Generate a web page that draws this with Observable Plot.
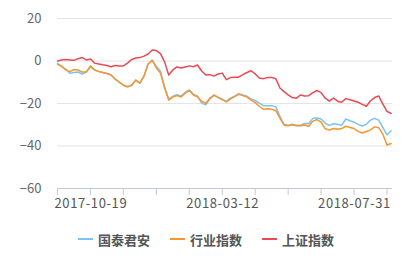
<!DOCTYPE html>
<html><head><meta charset="utf-8">
<script src="https://cdn.jsdelivr.net/npm/d3@7"></script>
<script src="https://cdn.jsdelivr.net/npm/@observablehq/plot@0.6"></script>
<style>
body{margin:0;background:#fff;font-family:"Noto Sans CJK SC",sans-serif;}
#legend{display:flex;justify-content:center;align-items:center;gap:20px;padding-top:14px;height:20px;font-size:13px;font-weight:bold;color:#555;padding-left:2px}
#legend span.sw{display:inline-block;width:15px;height:2px;margin-right:5px;vertical-align:middle}
#legend div{display:flex;align-items:center}
g[aria-label="x-axis tick label"] text{letter-spacing:0.6px}
</style></head><body>
<div id="chart"></div>
<div id="legend"></div>
<script>
const seriesNames = ["国泰君安", "行业指数", "上证指数"];
const colors = ["#7cc3f3", "#f7952f", "#eb4a53"];
const tickLabels = ["2017-10-19", "2018-03-12", "2018-07-31"];
const tickLabelDays = [0, 96, 192];
const gtja = [-1.1,-2.8,-3.8,-5.8,-5.4,-5.2,-6.1,-5.2,-2.8,-4.2,-4.9,-5.4,-5.9,-6.6,-8.5,-9.9,-11.4,-12.1,-11.4,-9.0,-10.4,-7.1,-1.4,0.2,-2.5,-4.8,-12.2,-18.0,-16.6,-15.9,-16.5,-14.8,-13.6,-15.7,-16.6,-19.8,-20.6,-17.9,-16.2,-17.0,-18.0,-19.0,-17.5,-16.5,-15.4,-16.0,-16.6,-17.8,-18.6,-19.8,-21.0,-21.0,-21.0,-21.6,-26.0,-29.8,-30.3,-29.8,-30.2,-30.2,-29.4,-29.4,-27.0,-26.8,-27.3,-29.3,-30.3,-29.5,-29.8,-30.3,-27.3,-28.1,-28.8,-29.8,-30.6,-29.8,-27.8,-27.0,-27.8,-31.3,-34.8,-32.8];
const industry = [-1.5,-2.3,-4.2,-5.0,-4.0,-4.2,-5.2,-5.2,-2.3,-4.2,-4.9,-5.4,-5.9,-6.6,-8.5,-9.9,-11.4,-12.1,-11.4,-9.0,-10.4,-7.1,-1.4,0.4,-3.3,-5.7,-12.7,-18.4,-17.0,-16.3,-16.9,-15.1,-13.9,-16.0,-16.8,-18.9,-19.9,-17.5,-16.0,-17.2,-18.2,-19.2,-17.8,-16.8,-15.7,-16.3,-17.0,-18.4,-19.6,-21.3,-22.7,-22.5,-22.7,-23.4,-26.9,-30.2,-30.5,-30.0,-30.5,-30.5,-30.1,-30.7,-28.3,-27.6,-28.8,-31.9,-32.5,-31.8,-32.1,-31.8,-30.7,-31.3,-31.8,-33.1,-33.9,-33.2,-32.4,-31.0,-31.4,-34.5,-39.5,-38.8];
const shIndex = [0.0,0.5,0.7,0.5,0.3,1.1,1.6,0.5,0.9,-1.0,-1.4,-1.8,-2.1,-2.7,-2.1,-2.3,-2.3,-1.0,0.7,1.4,1.6,2.3,3.3,5.2,4.9,3.5,-0.4,-6.6,-4.2,-2.8,-3.3,-2.8,-2.3,-2.7,-1.9,-4.7,-6.6,-6.4,-7.1,-6.1,-5.7,-8.8,-7.8,-7.6,-7.6,-6.4,-5.4,-4.6,-6.1,-8.0,-8.3,-7.8,-7.8,-8.3,-12.7,-14.4,-15.9,-17.2,-17.5,-16.0,-16.5,-16.3,-14.9,-13.9,-14.9,-17.5,-18.9,-17.4,-18.9,-19.4,-17.7,-18.2,-18.8,-19.4,-20.4,-21.3,-18.7,-17.2,-16.5,-20.3,-23.7,-24.7];
const dayStep = 3;
const yTicks = [20, 0, -20, -40, -60];

const allSeries = [gtja, industry, shIndex];
const rows = [];
allSeries.forEach((arr, s) => arr.forEach((v, i) => rows.push({day: i * dayStep, value: v, series: seriesNames[s]})));

const xTicks = d3.range(0, 241, 24);
const chart = Plot.plot({
  width: 410, height: 215,
  marginLeft: 57, marginRight: 18, marginTop: 18, marginBottom: 27,
  style: {fontFamily: '"Noto Sans CJK SC", sans-serif', background: "#fff"},
  x: {domain: [0, 244], axis: null, label: null},
  y: {domain: [-60, 20], axis: null, label: null},
  color: {domain: seriesNames, range: colors},
  marks: [
    Plot.gridY(yTicks.filter(d => d > -60), {stroke: "#e4e4e4", strokeOpacity: 1, strokeWidth: 1}),
    Plot.axisY(yTicks, {tickSize: 0, tickPadding: 16, fontSize: 13, fill: "#666", label: null}),
    Plot.ruleY([-60], {stroke: "#bfc9dd", strokeWidth: 1}),
    Plot.ruleX(xTicks, {x: d => d, y1: -60, y2: -63.3, stroke: "#bfc9dd", strokeWidth: 1}),
    Plot.axisX(xTicks, {tickSize: 0, tickPadding: 10, fontSize: 13, fill: "#555", textAnchor: "start", dx: -3, label: null,
      tickFormat: d => { const k = tickLabelDays.indexOf(d); return k >= 0 ? tickLabels[k] : ""; }}),
    Plot.lineY(rows, {x: "day", y: "value", stroke: "series", strokeWidth: 1.5, curve: "linear"})
  ]
});
document.getElementById("chart").appendChild(chart);
const lg = document.getElementById("legend");
seriesNames.forEach((n, i) => {
  const d = document.createElement("div");
  d.innerHTML = `<span class="sw" style="background:${colors[i]}"></span>${n}`;
  lg.appendChild(d);
});
</script></body></html>
